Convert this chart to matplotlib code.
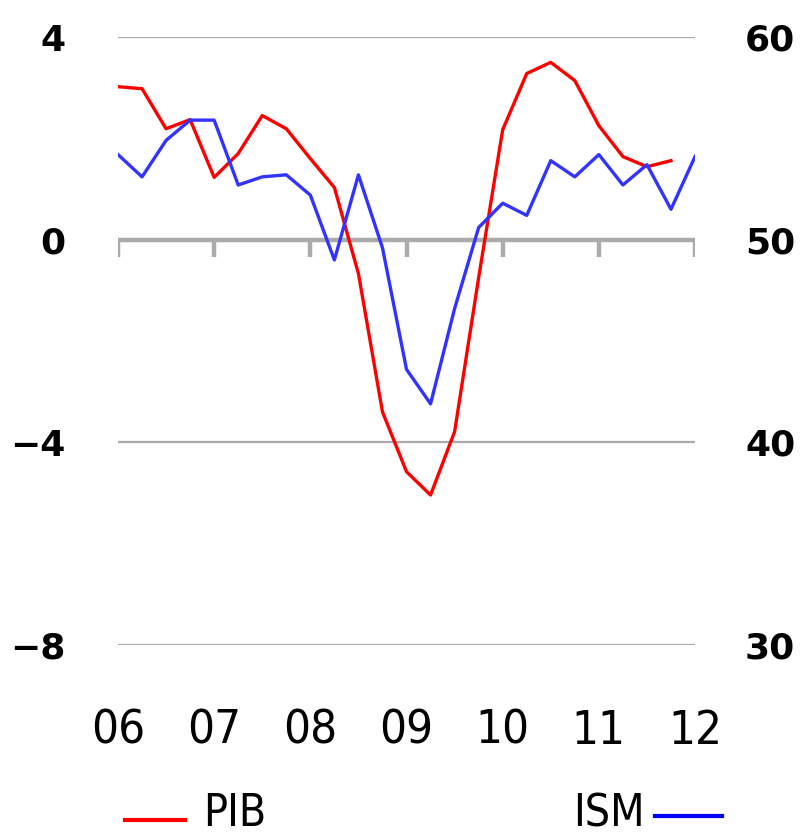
import numpy as np
import matplotlib
matplotlib.use('Agg')
import matplotlib.pyplot as plt
from matplotlib.lines import Line2D

# PIB (gauche, %) trimestriel 2006T1 - 2011T4
pib = [3.02, 2.98, 2.19, 2.37, 1.23, 1.70, 2.45, 2.19, 1.60, 1.03,
       -0.67, -3.40, -4.58, -5.04, -3.79, -0.75, 2.17, 3.28, 3.50, 3.14,
       2.25, 1.64, 1.44, 1.56]
# ISM (droite) trimestriel 2006T1 - 2012T1
ism = [54.2, 53.1, 54.9, 55.9, 55.9, 52.7, 53.1, 53.2, 52.2, 49.0,
       53.2, 49.6, 43.6, 41.9, 46.6, 50.6, 51.8, 51.2, 53.9, 53.1,
       54.2, 52.7, 53.7, 51.5, 54.1]
annees = [2006, 2007, 2008, 2009, 2010, 2011, 2012]
etiquettes = ['06', '07', '08', '09', '10', '11', '12']
gauche_ticks = [4, 0, -4, -8]
droite_ticks = [60, 50, 40, 30]

t_pib = 2006 + np.arange(len(pib)) / 4
t_ism = 2006 + np.arange(len(ism)) / 4

narrow = dict(family='DejaVu Sans', stretch='condensed')
gris = '#ababab'

fig = plt.figure(figsize=(8, 8.36), dpi=100)
ax = fig.add_axes([0.1475, 0.2285, 0.7213, 0.7272])
ax2 = ax.twinx()

ax.set_xlim(2006, 2012)
ax.set_ylim(-8, 4)
ax2.set_ylim(30, 60)

for v in [4, -4, -8]:
    ax.axhline(v, color=gris, lw=1.6, zorder=1)
ax.axhline(0, color=gris, lw=3.2, zorder=1)
ax.vlines(annees, -0.34, 0, color=gris, lw=3.2, zorder=1)

ax.plot(t_pib, pib, color='#ff0000', lw=2.4, zorder=3)
ax2.plot(t_ism, ism, color='#3333ff', lw=2.4, zorder=3)

for s in list(ax.spines.values()) + list(ax2.spines.values()):
    s.set_visible(False)

ax.set_yticks(gauche_ticks)
ax.set_yticklabels(['4', '0', '\u22124', '\u22128'], fontsize=26, fontweight='bold')
ax.tick_params(axis='y', length=0, pad=38)
ax2.set_yticks(droite_ticks)
ax2.set_yticklabels([str(v) for v in droite_ticks], fontsize=26, fontweight='bold')
ax2.tick_params(axis='y', length=0, pad=36)

ax.set_xticks(annees)
ax.set_xticklabels(etiquettes, fontsize=34, **narrow)
ax.tick_params(axis='x', length=0, pad=46)

# légende
fig.add_artist(Line2D([125 / 800, 185 / 800], [1 - 820 / 836] * 2,
                      color='#ff0000', lw=3))
fig.text(203 / 800, 0.001, 'PIB', fontsize=32,
         va='bottom', ha='left', **narrow)
fig.add_artist(Line2D([655 / 800, 722 / 800], [1 - 816 / 836] * 2,
                      color='#0000ff', lw=3))
fig.text(645 / 800, 0.001, 'ISM', fontsize=32,
         va='bottom', ha='right', **narrow)

fig.savefig('out.png', dpi=100)
